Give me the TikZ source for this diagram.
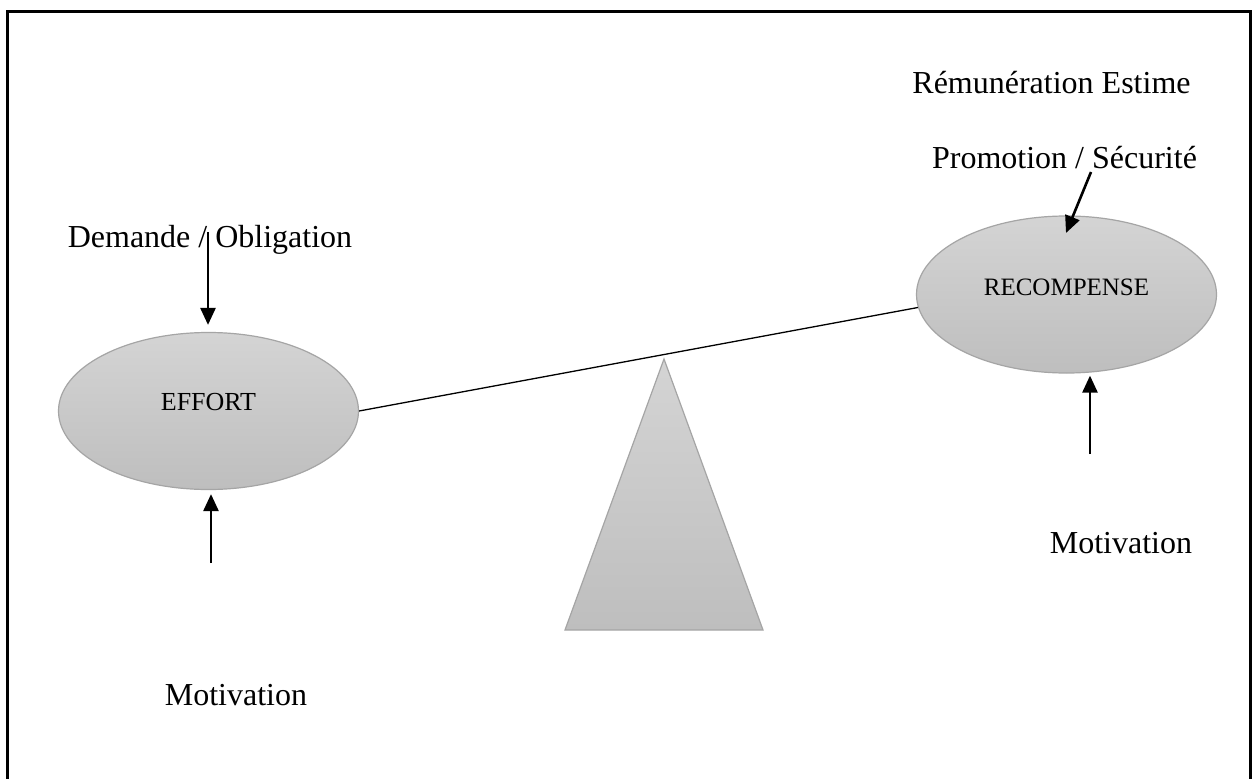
\documentclass[tikz,border=0pt]{standalone}
\usepackage{fontspec}
\setmainfont{Liberation Serif}
\usetikzlibrary{shapes.geometric,arrows.meta}
\tikzset{
  ell/.style={ellipse, draw={rgb,255:red,165;green,165;blue,165}, line width=1.2pt,
    top color={rgb,255:red,212;green,212;blue,212}, bottom color={rgb,255:red,190;green,190;blue,190},
    minimum width=300pt, minimum height=157pt, inner sep=0pt},
  big/.style={font=\fontsize{32}{38}\selectfont, anchor=base, inner sep=0pt},
  arr/.style={line width=2.6pt, -{Triangle[length=17pt,width=15pt]}},
}
\begin{document}
\begin{tikzpicture}[x=1pt,y=-1pt]
\clip (0,0) rectangle (1254,779);
\fill[white] (0,0) rectangle (1254,779);
\draw[line width=3pt] (7,11) rectangle (1250,800);
% fulcrum
\draw[draw={rgb,255:red,165;green,165;blue,165}, line width=1.2pt,
  top color={rgb,255:red,212;green,212;blue,212}, bottom color={rgb,255:red,190;green,190;blue,190}]
  (664,359) -- (763,630) -- (565,630) -- cycle;
% ellipses
\node[ell, label={[yshift=9pt,font=\fontsize{26}{30}\selectfont]center:EFFORT}] (effort) at (208.5,411) {};
\node[ell, label={[yshift=7.5pt,font=\fontsize{25}{30}\selectfont]center:RECOMPENSE}] (rec) at (1066.5,294.5) {};
% beam
\draw[line width=1.3pt] (effort.east) -- (rec.185);
% texts
\node[big] (rem) at (1051.5,93) {Rémunération Estime};
\node[big] (promo) at (1064.5,168) {Promotion / Sécurité};
\node[big] (dem) at (210,247) {Demande / Obligation};
\node[big] (mot1) at (236,705) {Motivation};
\node[big] (mot2) at (1121,553) {Motivation};
% arrow coordinates
\coordinate (d1) at (208,232);
\coordinate (m1) at (211,563);
\coordinate (m2) at (1090,454);
\coordinate (p1) at (1091,172);
\coordinate (p2) at (1066,233);
\draw[arr, shorten >=7pt] (d1) -- (d1 |- effort.north);
\draw[arr, shorten >=4pt] (m1) -- (m1 |- effort.south);
\draw[arr, shorten >=2pt] (m2) -- (m2 |- rec.south);
\draw[arr] (p1) -- (p2);
\end{tikzpicture}
\end{document}
